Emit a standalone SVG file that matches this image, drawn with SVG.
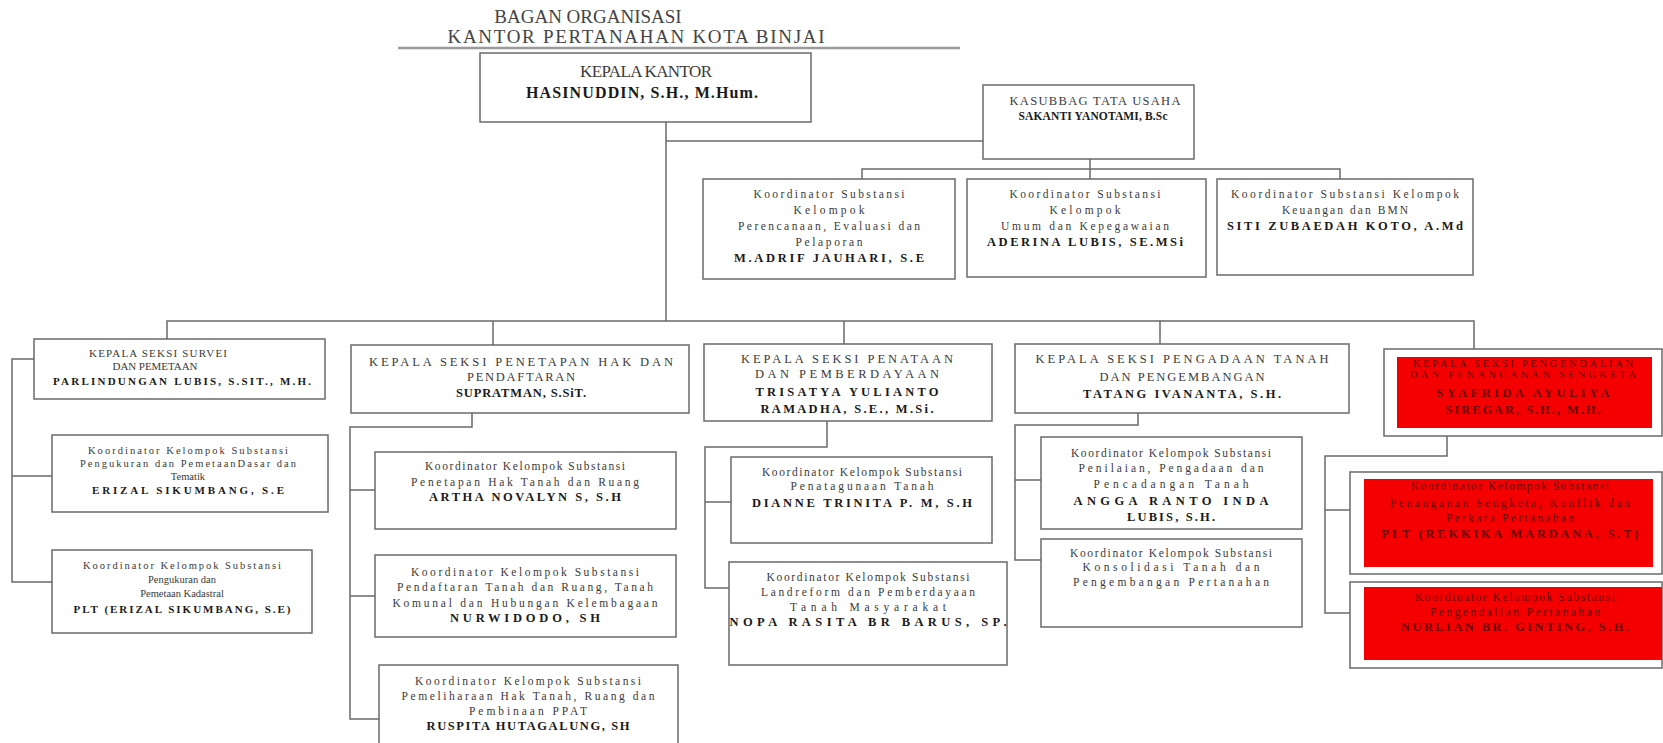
<svg xmlns="http://www.w3.org/2000/svg" width="1663" height="743" viewBox="0 0 1663 743">
<style>
.box{fill:#fff;stroke:#6a6a6a;stroke-width:1.5}
.red{fill:#f50000;stroke:none}
.conn{fill:none;stroke:#6a6a6a;stroke-width:1.5}
text{font-family:"Liberation Serif","Times New Roman",serif;text-anchor:middle;fill:#3a3a3a}
.ttl{font-size:19px;fill:#444}
.h{font-size:12.5px}
.r{font-size:11.5px}
.b{font-weight:bold;font-size:12.5px;fill:#1a1a1a}
.big{font-size:17px}
.dk{fill:#6a0000}
</style>

<g id="title">
<text class="ttl" x="588" y="23">BAGAN ORGANISASI</text>
<text class="ttl" x="636" y="43" textLength="377" lengthAdjust="spacing">KANTOR PERTANAHAN KOTA BINJAI</text>
<line x1="398" y1="48" x2="960" y2="48" stroke="#9a9a9a" stroke-width="2.5"/>
</g>

<g id="connectors">
<path class="conn" d="M666,122 V321"/>
<path class="conn" d="M666,141 H983"/>
<path class="conn" d="M1090,159 V179"/>
<path class="conn" d="M862,179 V169 H1340 V179"/>
<path class="conn" d="M167,339 V321 H1474 V349"/>
<path class="conn" d="M493,321 V345"/>
<path class="conn" d="M844,321 V344"/>
<path class="conn" d="M1160,321 V344"/>
<path class="conn" d="M34,359 H12 V582 H52 M12,476 H52"/>
<path class="conn" d="M472,413 V427 H350 V719 H379 M350,490 H375 M350,596 H375"/>
<path class="conn" d="M827,421 V447 H705 V588 H729 M705,502 H731"/>
<path class="conn" d="M1138,413 V425 H1015 V560 H1041 M1015,480 H1041"/>
<path class="conn" d="M1447,436 V456 H1325 V613 H1350 M1325,510 H1350"/>
</g>

<g id="kepala-kantor">
<rect class="box" x="480" y="53" width="331" height="69"/>
<text class="big" x="646" y="77" textLength="132" lengthAdjust="spacing">KEPALA KANTOR</text>
<text class="b" x="642" y="98" style="font-size:16px" textLength="232" lengthAdjust="spacing">HASINUDDIN, S.H., M.Hum.</text>
</g>

<g id="kasubbag">
<rect class="box" x="983" y="85" width="211" height="74"/>
<text class="h" x="1095" y="105" textLength="171" lengthAdjust="spacing">KASUBBAG TATA USAHA</text>
<text class="b" x="1093" y="120" style="font-size:11.5px" textLength="149" lengthAdjust="spacing">SAKANTI YANOTAMI, B.Sc</text>
</g>

<g id="koord-perencanaan">
<rect class="box" x="703" y="179" width="252" height="100"/>
<text class="r" x="829" y="198" textLength="151" lengthAdjust="spacing">Koordinator Substansi</text>
<text class="r" x="829" y="214" textLength="71" lengthAdjust="spacing">Kelompok</text>
<text class="r" x="829" y="230" textLength="182" lengthAdjust="spacing">Perencanaan, Evaluasi dan</text>
<text class="r" x="829" y="246" textLength="67" lengthAdjust="spacing">Pelaporan</text>
<text class="b" x="829" y="262" textLength="190" lengthAdjust="spacing">M.ADRIF JAUHARI, S.E</text>
</g>

<g id="koord-umum">
<rect class="box" x="967" y="179" width="239" height="98"/>
<text class="r" x="1085" y="198" textLength="151" lengthAdjust="spacing">Koordinator Substansi</text>
<text class="r" x="1085" y="214" textLength="71" lengthAdjust="spacing">Kelompok</text>
<text class="r" x="1085" y="230" textLength="168" lengthAdjust="spacing">Umum dan Kepegawaian</text>
<text class="b" x="1085" y="246" textLength="196" lengthAdjust="spacing">ADERINA LUBIS, SE.MSi</text>
</g>

<g id="koord-keuangan">
<rect class="box" x="1217" y="179" width="256" height="96"/>
<text class="r" x="1345" y="198" textLength="228" lengthAdjust="spacing">Koordinator Substansi Kelompok</text>
<text class="r" x="1345" y="214" textLength="126" lengthAdjust="spacing">Keuangan dan BMN</text>
<text class="b" x="1345" y="230" textLength="236" lengthAdjust="spacing">SITI ZUBAEDAH KOTO, A.Md</text>
</g>

<g id="seksi-survei">
<rect class="box" x="34" y="339" width="291" height="60"/>
<text class="h" x="158" y="357" style="font-size:11px" textLength="138" lengthAdjust="spacing">KEPALA SEKSI SURVEI</text>
<text class="h" x="155" y="370" style="font-size:11px" textLength="85" lengthAdjust="spacing">DAN PEMETAAN</text>
<text class="b" x="182" y="385" style="font-size:11px" textLength="258" lengthAdjust="spacing">PARLINDUNGAN LUBIS, S.SIT., M.H.</text>
</g>

<g id="koord-pengukuran-dasar">
<rect class="box" x="52" y="435" width="276" height="77"/>
<text class="r" x="188" y="454" style="font-size:10.5px" textLength="200" lengthAdjust="spacing">Koordinator Kelompok Substansi</text>
<text class="r" x="188" y="467" style="font-size:10.5px" textLength="216" lengthAdjust="spacing">Pengukuran dan PemetaanDasar dan</text>
<text class="r" x="188" y="480" style="font-size:10.5px">Tematik</text>
<text class="b" x="188" y="494" style="font-size:11px" textLength="192" lengthAdjust="spacing">ERIZAL SIKUMBANG, S.E</text>
</g>

<g id="koord-pengukuran-kadastral">
<rect class="box" x="52" y="550" width="260" height="83"/>
<text class="r" x="182" y="569" style="font-size:10.5px" textLength="198" lengthAdjust="spacing">Koordinator Kelompok Substansi</text>
<text class="r" x="182" y="583" style="font-size:10.5px">Pengukuran dan</text>
<text class="r" x="182" y="597" style="font-size:10.5px">Pemetaan Kadastral</text>
<text class="b" x="182" y="613" style="font-size:11px" textLength="217" lengthAdjust="spacing">PLT (ERIZAL SIKUMBANG, S.E)</text>
</g>

<g id="seksi-penetapan">
<rect class="box" x="351" y="345" width="338" height="68"/>
<text class="h" x="521" y="366" textLength="304" lengthAdjust="spacing">KEPALA SEKSI PENETAPAN HAK DAN</text>
<text class="h" x="521" y="381" textLength="108" lengthAdjust="spacing">PENDAFTARAN</text>
<text class="b" x="521" y="397" textLength="130" lengthAdjust="spacing">SUPRATMAN, S.SiT.</text>
</g>

<g id="koord-penetapan-hak">
<rect class="box" x="375" y="452" width="301" height="77"/>
<text class="r" x="525" y="470" textLength="200" lengthAdjust="spacing">Koordinator Kelompok Substansi</text>
<text class="r" x="525" y="486" textLength="228" lengthAdjust="spacing">Penetapan Hak Tanah dan Ruang</text>
<text class="b" x="525" y="501" textLength="192" lengthAdjust="spacing">ARTHA NOVALYN S, S.H</text>
</g>

<g id="koord-pendaftaran">
<rect class="box" x="375" y="555" width="301" height="82"/>
<text class="r" x="525" y="576" textLength="228" lengthAdjust="spacing">Koordinator Kelompok Substansi</text>
<text class="r" x="525" y="591" textLength="256" lengthAdjust="spacing">Pendaftaran Tanah dan Ruang, Tanah</text>
<text class="r" x="525" y="607" textLength="265" lengthAdjust="spacing">Komunal dan Hubungan Kelembagaan</text>
<text class="b" x="525" y="622" textLength="150" lengthAdjust="spacing">NURWIDODO, SH</text>
</g>

<g id="koord-pemeliharaan">
<rect class="box" x="379" y="665" width="299" height="85"/>
<text class="r" x="528" y="685" textLength="226" lengthAdjust="spacing">Koordinator Kelompok Substansi</text>
<text class="r" x="528" y="700" textLength="253" lengthAdjust="spacing">Pemeliharaan Hak Tanah, Ruang dan</text>
<text class="r" x="528" y="715" textLength="118" lengthAdjust="spacing">Pembinaan PPAT</text>
<text class="b" x="528" y="730" textLength="203" lengthAdjust="spacing">RUSPITA HUTAGALUNG, SH</text>
</g>

<g id="seksi-penataan">
<rect class="box" x="704" y="344" width="288" height="77"/>
<text class="h" x="847" y="363" textLength="212" lengthAdjust="spacing">KEPALA SEKSI PENATAAN</text>
<text class="h" x="847" y="378" textLength="184" lengthAdjust="spacing">DAN PEMBERDAYAAN</text>
<text class="b" x="847" y="396" textLength="183" lengthAdjust="spacing">TRISATYA YULIANTO</text>
<text class="b" x="847" y="413" textLength="173" lengthAdjust="spacing">RAMADHA, S.E., M.Si.</text>
</g>

<g id="koord-penatagunaan">
<rect class="box" x="731" y="457" width="261" height="86"/>
<text class="r" x="862" y="476" textLength="200" lengthAdjust="spacing">Koordinator Kelompok Substansi</text>
<text class="r" x="862" y="490" textLength="143" lengthAdjust="spacing">Penatagunaan Tanah</text>
<text class="b" x="862" y="507" textLength="220" lengthAdjust="spacing">DIANNE TRINITA P. M, S.H</text>
</g>

<g id="koord-landreform">
<rect class="box" x="729" y="562" width="278" height="103"/>
<text class="r" x="868" y="581" textLength="203" lengthAdjust="spacing">Koordinator Kelompok Substansi</text>
<text class="r" x="868" y="596" textLength="214" lengthAdjust="spacing">Landreform dan Pemberdayaan</text>
<text class="r" x="868" y="611" textLength="156" lengthAdjust="spacing">Tanah Masyarakat</text>
<text class="b" x="868" y="626" textLength="277" lengthAdjust="spacing">NOPA RASITA BR BARUS, SP.</text>
</g>

<g id="seksi-pengadaan">
<rect class="box" x="1015" y="344" width="334" height="69"/>
<text class="h" x="1182" y="363" textLength="293" lengthAdjust="spacing">KEPALA SEKSI PENGADAAN TANAH</text>
<text class="h" x="1182" y="381" textLength="165" lengthAdjust="spacing">DAN PENGEMBANGAN</text>
<text class="b" x="1182" y="398" textLength="198" lengthAdjust="spacing">TATANG IVANANTA, S.H.</text>
</g>

<g id="koord-penilaian">
<rect class="box" x="1041" y="437" width="261" height="92"/>
<text class="r" x="1171" y="457" textLength="200" lengthAdjust="spacing">Koordinator Kelompok Substansi</text>
<text class="r" x="1171" y="472" textLength="185" lengthAdjust="spacing">Penilaian, Pengadaan dan</text>
<text class="r" x="1171" y="488" textLength="155" lengthAdjust="spacing">Pencadangan Tanah</text>
<text class="b" x="1171" y="505" textLength="195" lengthAdjust="spacing">ANGGA RANTO INDA</text>
<text class="b" x="1171" y="521" textLength="88" lengthAdjust="spacing">LUBIS, S.H.</text>
</g>

<g id="koord-konsolidasi">
<rect class="box" x="1041" y="539" width="261" height="88"/>
<text class="r" x="1171" y="557" textLength="202" lengthAdjust="spacing">Koordinator Kelompok Substansi</text>
<text class="r" x="1171" y="571" textLength="177" lengthAdjust="spacing">Konsolidasi Tanah dan</text>
<text class="r" x="1171" y="586" textLength="196" lengthAdjust="spacing">Pengembangan Pertanahan</text>
</g>

<g id="seksi-pengendalian">
<rect class="box" x="1384" y="349" width="278" height="87"/>
<rect class="red" x="1397" y="357" width="255" height="71"/>
<text class="h dk" x="1523" y="367" style="font-size:10.5px" textLength="220" lengthAdjust="spacing">KEPALA SEKSI PENGENDALIAN</text>
<text class="h dk" x="1523" y="378" style="font-size:10.5px" textLength="226" lengthAdjust="spacing">DAN PENANGANAN SENGKETA</text>
<text class="b dk" x="1523" y="397" textLength="173" lengthAdjust="spacing">SYAFRIDA AYULIYA</text>
<text class="b dk" x="1523" y="414" textLength="155" lengthAdjust="spacing">SIREGAR, S.H., M.H.</text>
</g>

<g id="koord-sengketa">
<rect class="box" x="1350" y="472" width="312" height="102"/>
<rect class="red" x="1364" y="479" width="289" height="88"/>
<text class="r dk" x="1510" y="490" textLength="198" lengthAdjust="spacing">Koordinator Kelompok Substansi</text>
<text class="r dk" x="1510" y="507" textLength="240" lengthAdjust="spacing">Penanganan Sengketa, Konflik dan</text>
<text class="r dk" x="1510" y="522" textLength="128" lengthAdjust="spacing">Perkara Pertanahan</text>
<text class="b dk" x="1510" y="538" textLength="257" lengthAdjust="spacing">PLT (REKKIKA MARDANA, S.T)</text>
</g>

<g id="koord-pengendalian">
<rect class="box" x="1350" y="582" width="312" height="86"/>
<rect class="red" x="1364" y="587" width="298" height="73"/>
<text class="r dk" x="1515" y="601" textLength="200" lengthAdjust="spacing">Koordinator Kelompok Substansi</text>
<text class="r dk" x="1515" y="616" textLength="170" lengthAdjust="spacing">Pengendalian Pertanahan</text>
<text class="b dk" x="1515" y="631" textLength="228" lengthAdjust="spacing">NURLIAN BR. GINTING, S.H.</text>
</g>
</svg>
